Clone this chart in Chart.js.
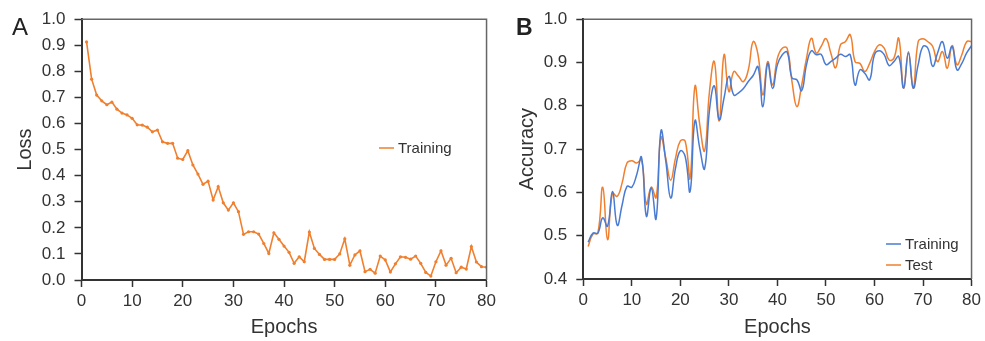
<!DOCTYPE html>
<html>
<head>
<meta charset="utf-8">
<script src="https://cdn.jsdelivr.net/npm/chart.js@4.4.1/dist/chart.umd.min.js"></script>
<style>
  html, body { margin: 0; padding: 0; background: #fff; }
  #wrap { position: relative; width: 985px; height: 341px; }
  .box { position: absolute; top: 0; height: 341px; }
</style>
</head>
<body>
<div id="wrap">
  <div class="box" style="left:0;width:500px"><canvas id="lossChart"></canvas></div>
  <div class="box" style="left:500px;width:485px"><canvas id="accChart"></canvas></div>
</div>
<script>
const epochs = [1,2,3,4,5,6,7,8,9,10,11,12,13,14,15,16,17,18,19,20,
  21,22,23,24,25,26,27,28,29,30,31,32,33,34,35,36,37,38,39,40,
  41,42,43,44,45,46,47,48,49,50,51,52,53,54,55,56,57,58,59,60,
  61,62,63,64,65,66,67,68,69,70,71,72,73,74,75,76,77,78,79,80];

const lossTraining = [0.913,0.770,0.709,0.687,0.672,0.682,0.655,0.640,0.633,0.620,
  0.595,0.594,0.586,0.568,0.575,0.530,0.524,0.524,0.467,0.462,
  0.496,0.441,0.406,0.367,0.379,0.307,0.358,0.296,0.268,0.296,
  0.262,0.175,0.185,0.185,0.176,0.140,0.102,0.181,0.156,0.130,
  0.106,0.064,0.089,0.070,0.184,0.121,0.098,0.079,0.079,0.079,
  0.100,0.158,0.057,0.096,0.112,0.032,0.041,0.026,0.092,0.077,
  0.031,0.062,0.089,0.087,0.080,0.092,0.064,0.029,0.015,0.070,
  0.112,0.057,0.083,0.028,0.049,0.042,0.128,0.069,0.051,0.049];

const accTraining = [0.485,0.506,0.506,0.541,0.522,0.602,0.524,0.571,0.614,0.612,
  0.641,0.681,0.545,0.610,0.539,0.742,0.672,0.587,0.656,0.696,
  0.683,0.602,0.765,0.702,0.655,0.790,0.846,0.768,0.818,0.868,
  0.825,0.830,0.840,0.856,0.870,0.890,0.798,0.898,0.840,0.895,
  0.918,0.924,0.864,0.860,0.835,0.895,0.927,0.918,0.919,0.895,
  0.902,0.910,0.919,0.914,0.918,0.848,0.883,0.875,0.860,0.918,
  0.927,0.918,0.893,0.902,0.914,0.841,0.922,0.841,0.895,0.937,
  0.933,0.891,0.922,0.948,0.910,0.937,0.883,0.898,0.922,0.939];

const accTest = [0.475,0.504,0.506,0.612,0.491,0.598,0.591,0.622,0.668,0.673,
  0.668,0.675,0.573,0.612,0.588,0.727,0.679,0.628,0.679,0.719,
  0.718,0.633,0.845,0.756,0.696,0.833,0.902,0.765,0.918,0.833,
  0.879,0.868,0.856,0.883,0.948,0.918,0.825,0.902,0.848,0.910,
  0.933,0.933,0.856,0.798,0.848,0.910,0.956,0.922,0.937,0.955,
  0.922,0.888,0.941,0.948,0.964,0.902,0.898,0.879,0.898,0.925,
  0.941,0.933,0.906,0.910,0.956,0.841,0.925,0.841,0.948,0.955,
  0.948,0.937,0.902,0.925,0.887,0.939,0.895,0.918,0.948,0.948];

const ORANGE = '#f07f2e';
const BLUE = '#4a7bd3';
const INK = '#333333';
const FONT = "'Liberation Sans', Arial, sans-serif";

function pts(ys) {
  return epochs.map((e, i) => ({ x: e, y: ys[i] }));
}

// box on top/right, panel letter, manual legend
const panelPlugin = {
  id: 'panel',
  afterDraw(chart, args, opts) {
    const ctx = chart.ctx;
    const a = chart.chartArea;
    ctx.save();
    ctx.strokeStyle = '#666';
    ctx.lineWidth = 1.5;
    ctx.beginPath();
    ctx.moveTo(a.left, a.top);
    ctx.lineTo(a.right, a.top);
    ctx.lineTo(a.right, a.bottom);
    ctx.stroke();

    ctx.fillStyle = '#222';
    ctx.font = opts.letterFont;
    ctx.textBaseline = 'alphabetic';
    ctx.fillText(opts.letter, opts.letterX, opts.letterY);

    ctx.font = '15px ' + FONT;
    ctx.textBaseline = 'middle';
    chart.data.datasets.forEach((ds, i) => {
      const y = opts.legendY + i * opts.legendGap;
      ctx.strokeStyle = ds.borderColor;
      ctx.lineWidth = 1.5;
      ctx.beginPath();
      ctx.moveTo(opts.legendX, y);
      ctx.lineTo(opts.legendX + 15, y);
      ctx.stroke();
      ctx.fillStyle = INK;
      ctx.fillText(ds.label, opts.legendX + 19, y + 1);
    });
    ctx.restore();
  }
};

function axes(yMin, yMax, yTitle, yWidth, yTitlePad, xHeight) {
  const tickFont = { family: FONT, size: 17 };
  const titleFont = { family: FONT, size: 20 };
  return {
    x: {
      type: 'linear', min: 0, max: 80,
      ticks: { stepSize: 10, color: INK, font: tickFont, padding: 4, maxRotation: 0 },
      grid: { drawOnChartArea: false, drawTicks: true, tickLength: 7, color: INK, tickWidth: 1.5 },
      border: { display: true, color: INK, width: 2 },
      title: { display: true, text: 'Epochs', color: INK, font: titleFont, padding: { top: 0, bottom: 2 } },
      afterFit(s) { s.height = xHeight; }
    },
    y: {
      min: yMin, max: yMax,
      ticks: { stepSize: 0.1, color: INK, font: tickFont, padding: 9,
        callback: v => v.toFixed(1) },
      grid: { drawOnChartArea: false, drawTicks: true, tickLength: 7, color: INK, tickWidth: 1.5 },
      border: { display: true, color: INK, width: 2 },
      title: { display: true, text: yTitle, color: INK, font: titleFont, padding: { top: yTitlePad, bottom: 0 } },
      afterFit(s) { s.width = yWidth; }
    }
  };
}

new Chart(document.getElementById('lossChart'), {
  type: 'line',
  data: {
    datasets: [{
      label: 'Training',
      data: pts(lossTraining),
      borderColor: ORANGE,
      backgroundColor: ORANGE,
      borderWidth: 1.6,
      pointRadius: 1.6,
      pointBorderWidth: 0,
      tension: 0
    }]
  },
  options: {
    responsive: true,
    maintainAspectRatio: false,
    animation: false,
    layout: { padding: { top: 19, right: 11, left: 0, bottom: 0 } },
    plugins: {
      legend: { display: false },
      tooltip: { enabled: false },
      panel: { letter: 'A', letterFont: '24px ' + FONT, letterX: 12, letterY: 35,
        legendX: 379, legendY: 148, legendGap: 21 }
    },
    scales: axes(0, 1, 'Loss', 81.5, 13, 61)
  },
  plugins: [panelPlugin]
});

new Chart(document.getElementById('accChart'), {
  type: 'line',
  data: {
    datasets: [{
      label: 'Training',
      data: pts(accTraining),
      borderColor: BLUE,
      backgroundColor: BLUE,
      borderWidth: 1.5,
      pointRadius: 0,
      tension: 0.45
    }, {
      label: 'Test',
      data: pts(accTest),
      borderColor: ORANGE,
      backgroundColor: ORANGE,
      borderWidth: 1.5,
      pointRadius: 0,
      tension: 0.45
    }]
  },
  options: {
    responsive: true,
    maintainAspectRatio: false,
    animation: false,
    layout: { padding: { top: 19, right: 11.7, left: 0, bottom: 0 } },
    plugins: {
      legend: { display: false },
      tooltip: { enabled: false },
      panel: { letter: 'B', letterFont: 'bold 23px ' + FONT, letterX: 16, letterY: 35,
        legendX: 386, legendY: 244, legendGap: 21 }
    },
    scales: axes(0.4, 1, 'Accuracy', 83.3, 15, 62)
  },
  plugins: [panelPlugin]
});
</script>
</body>
</html>
